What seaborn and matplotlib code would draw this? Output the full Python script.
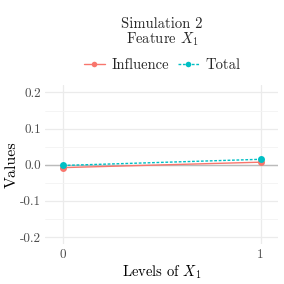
import seaborn as sns
import matplotlib.pyplot as plt
import pandas as pd

# Data
levels = [0, 1]
influence = [-0.008, 0.007]
total = [-0.002, 0.015]

data = pd.DataFrame({
    'Level': levels * 2,
    'Value': influence + total,
    'Type': ['Influence'] * len(levels) + ['Total'] * len(levels),
})

palette = {'Influence': '#F8766D', 'Total': '#00BFC4'}

sns.set_theme(style='whitegrid')
plt.rcParams['font.family'] = 'serif'
plt.rcParams['font.serif'] = ['cmr10']
plt.rcParams['mathtext.fontset'] = 'cm'
plt.rcParams['axes.formatter.use_mathtext'] = True

fig = plt.figure(figsize=(2.84, 2.84), dpi=100)
ax = fig.add_axes([0.16, 0.14, 0.82, 0.56])

ax.axhline(0, color='#bbbbbb', lw=1.0, zorder=1)
sns.lineplot(data=data, x='Level', y='Value', hue='Type', style='Type',
             palette=palette, dashes={'Influence': '', 'Total': (2, 1.2)},
             markers={'Influence': 'o', 'Total': 'o'}, markersize=5,
             markeredgewidth=0, lw=1.0, ax=ax, zorder=3)

ax.set_xlim(-0.09, 1.09)
ax.set_ylim(-0.22, 0.22)
ax.set_xticks([0, 1])
ax.set_xticklabels(['0', '1'])
ax.set_yticks([-0.2, -0.1, 0.0, 0.1, 0.2])
ax.set_yticklabels(['-0.2', '-0.1', '0.0', '0.1', '0.2'])
ax.set_yticks([-0.15, -0.05, 0.05, 0.15], minor=True)
ax.grid(True, which='major', color='#ebebeb', lw=0.9)
ax.grid(True, which='minor', axis='y', color='#f3f3f3', lw=0.6)
for s in ax.spines.values():
    s.set_visible(False)
ax.tick_params(axis='both', labelsize=9.5, colors='#4d4d4d', length=0, pad=3)
ax.set_xlabel('Levels of $X_1$', fontsize=10.5, color='black', labelpad=2)
ax.set_ylabel('Values', fontsize=11.5, color='black', labelpad=1)

ax.legend(handles=ax.get_legend_handles_labels()[0], labels=['Influence', 'Total'],
          loc='lower center', bbox_to_anchor=(0.5, 1.0), ncol=2, frameon=False,
          fontsize=10.5, handlelength=1.5, handletextpad=0.4, columnspacing=0.6,
          markerscale=0.8)

fig.suptitle('Simulation 2\nFeature $X_1$', x=0.57, y=0.94, fontsize=10.5, linespacing=1.0)

plt.savefig('out.png', dpi=100)
